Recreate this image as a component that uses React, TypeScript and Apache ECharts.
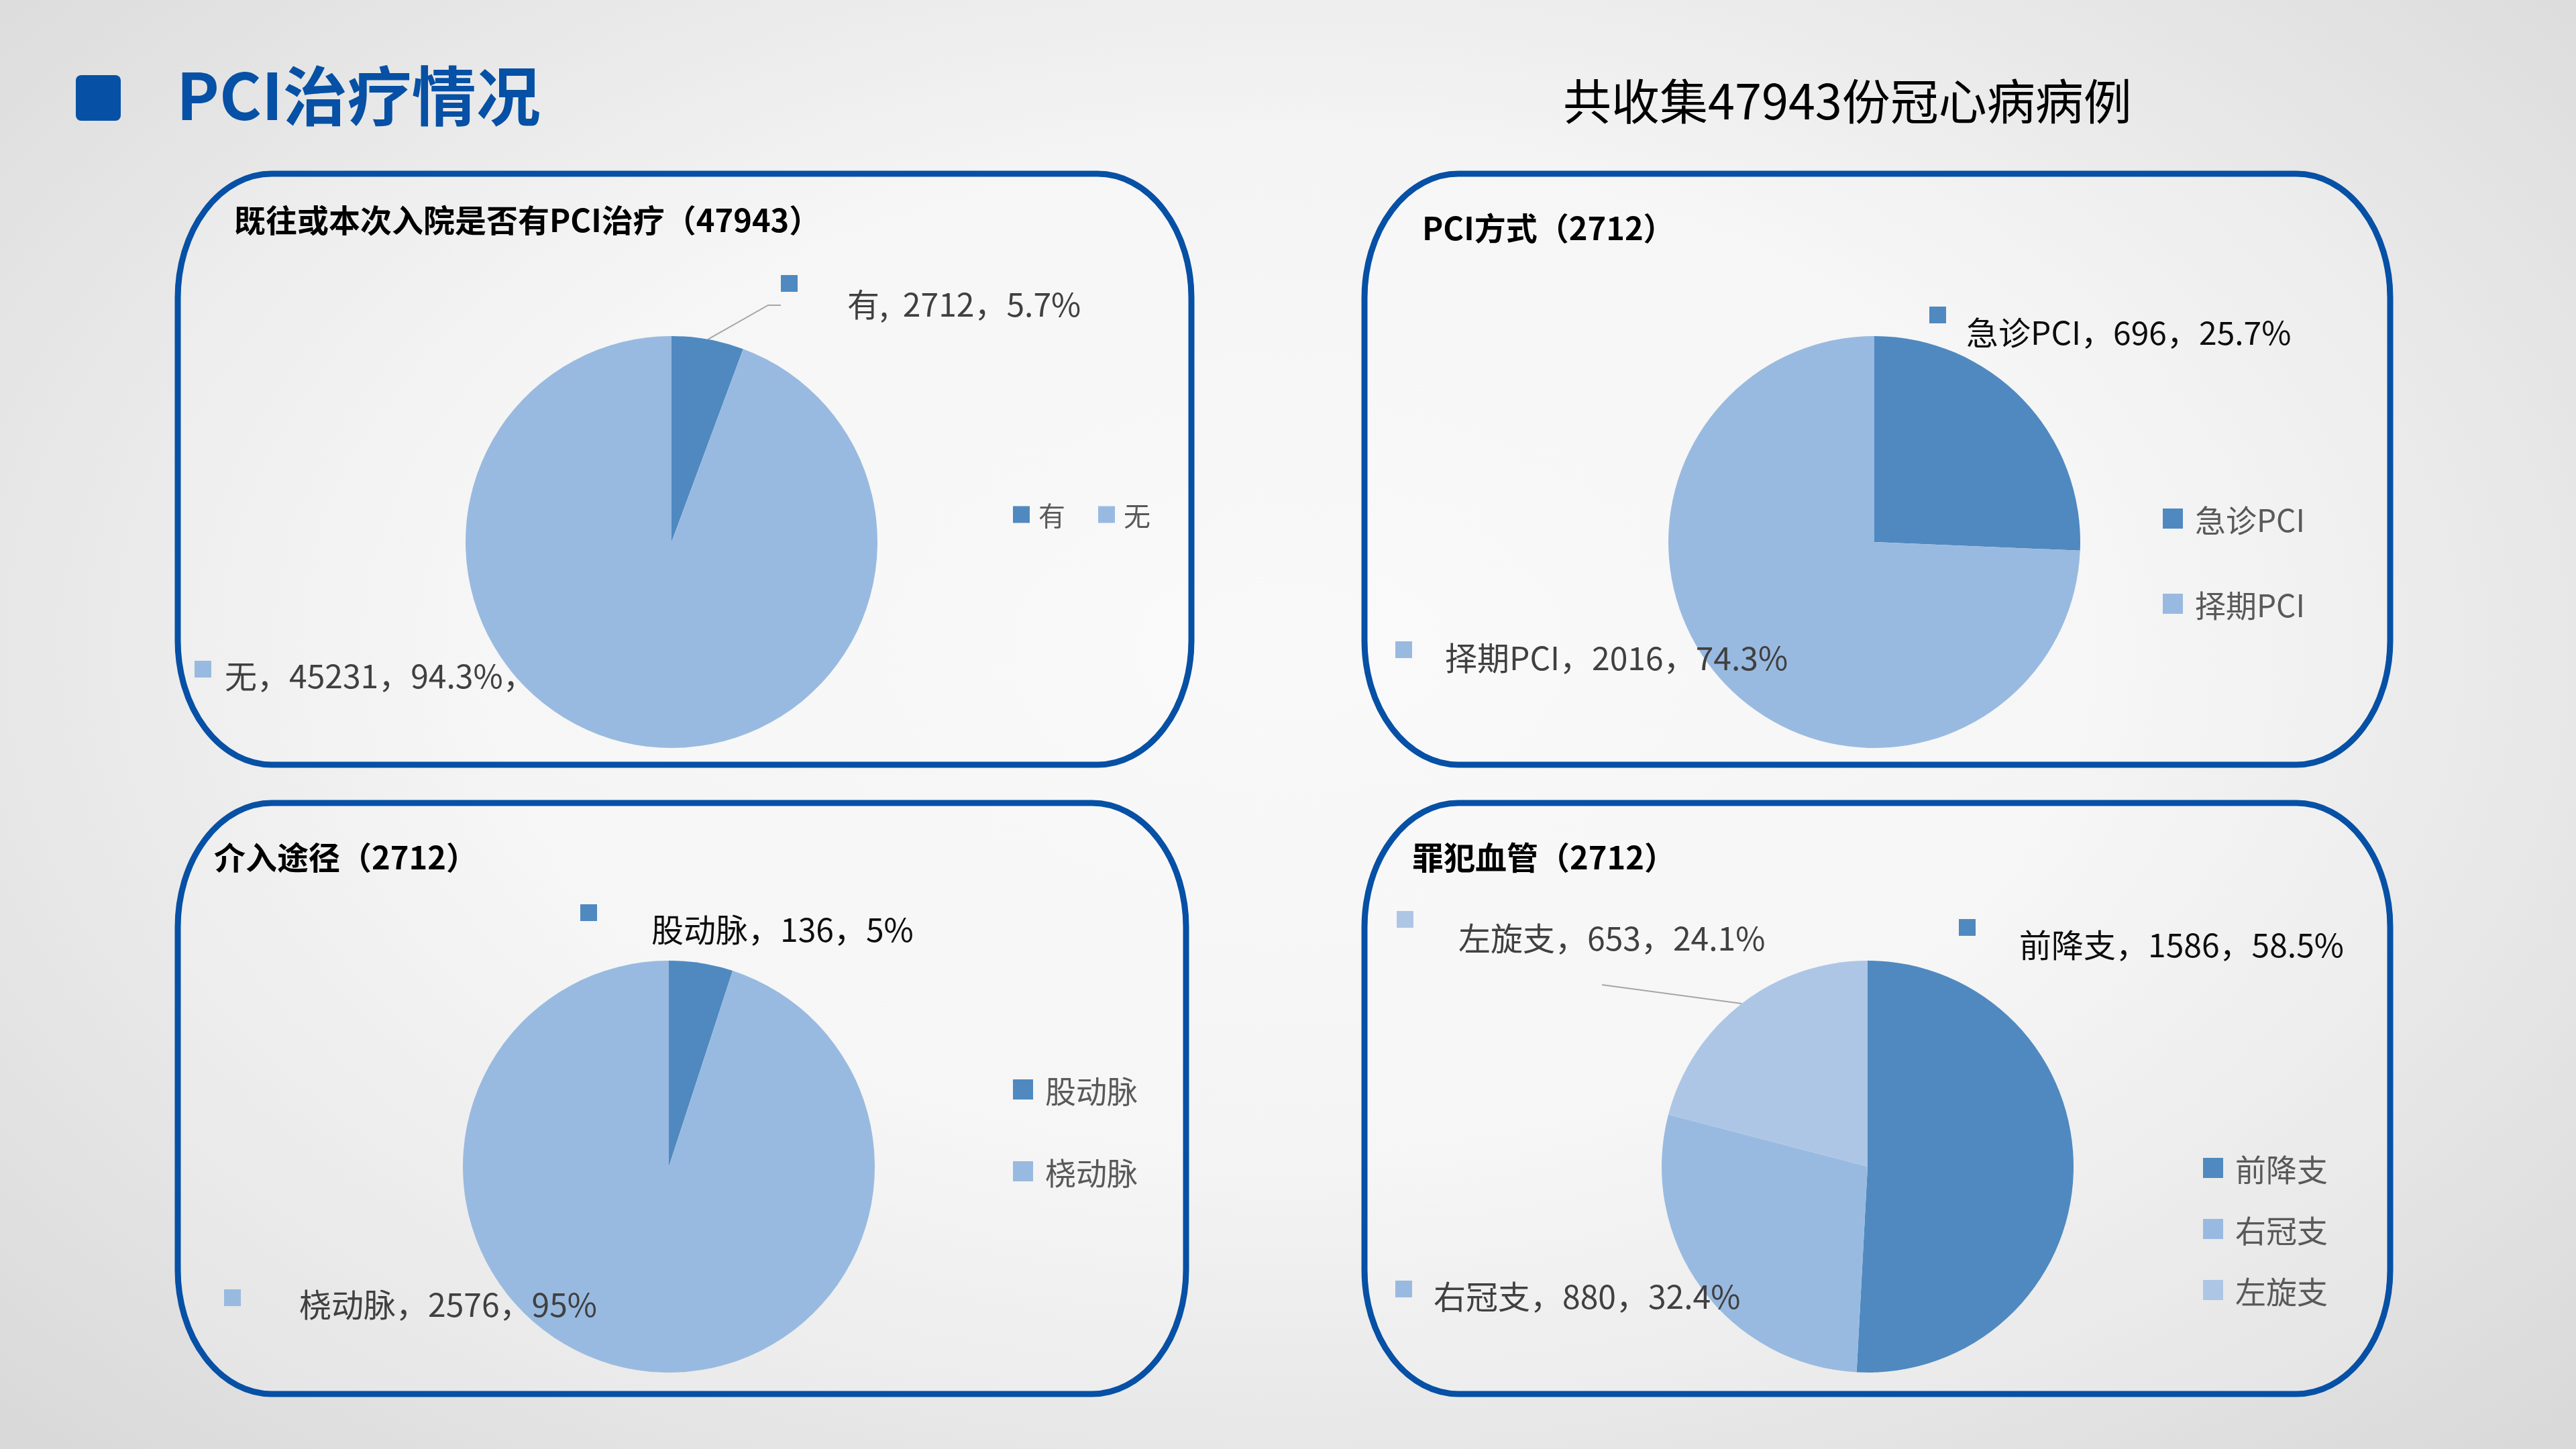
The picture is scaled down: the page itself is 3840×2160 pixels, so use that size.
import React, { useEffect, useRef } from "react";
import * as echarts from "echarts";

// ---------- data ----------
const pageTitle = "PCI治疗情况";
const pageSubtitle = "共收集47943份冠心病病例";

const chartTitles = [
  "既往或本次入院是否有PCI治疗（47943）",
  "PCI方式（2712）",
  "介入途径（2712）",
  "罪犯血管（2712）",
];

const historyNames = ["有", "无"];
const historyValues = [2712, 45231];
const historyPct = ["5.7%", "94.3%"];

const methodNames = ["急诊PCI", "择期PCI"];
const methodValues = [696, 2016];
const methodPct = ["25.7%", "74.3%"];

const accessNames = ["股动脉", "桡动脉"];
const accessValues = [136, 2576];
const accessPct = ["5%", "95%"];

const vesselNames = ["前降支", "右冠支", "左旋支"];
const vesselValues = [1586, 880, 653];
const vesselPct = ["58.5%", "32.4%", "24.1%"];

// ---------- styles / layout ----------
const FONT = "'Noto Sans CJK SC', 'Noto Sans', sans-serif";
const BLUE = "#0650A5";
const DARK = "#4F89C0";
const MID = "#99BAE0";
const LIGHT = "#AEC6E5";

type LabelCfg = {
  x: number; y: number; gap: number; pad: number; color: string;
  sep?: string; tail?: string; line?: number[][];
};

type PanelCfg = {
  box: number[];
  title: number[];
  center: number[];
  radius: number;
  colors: string[];
  legend: { left: number; top: number; orient: string; itemGap: number; fontSize: number; icon: number; textGap: number };
  labels: LabelCfg[];
};

const panels: PanelCfg[] = [
  {
    box: [265, 259, 1776, 1140],
    title: [349, 325],
    center: [1001, 808],
    radius: 307,
    colors: [DARK, MID],
    legend: { left: 1510, top: 742, orient: "horizontal", itemGap: 49, fontSize: 40, icon: 25, textGap: 8 },
    labels: [
      { x: 1164, y: 410, gap: 74, pad: 21, color: "#404040", sep: ",  ", line: [[1145, 455], [1164, 455]] },
      { x: 290, y: 985, gap: 20, pad: 0, color: "#404040", tail: "，" },
    ],
  },
  {
    box: [2034, 259, 3563, 1140],
    title: [2120, 337],
    center: [2794, 808],
    radius: 307,
    colors: [DARK, MID],
    legend: { left: 3224, top: 748, orient: "vertical", itemGap: 77, fontSize: 46, icon: 30, textGap: 13 },
    labels: [
      { x: 2876, y: 457, gap: 30, pad: 16, color: "#0d0d0d" },
      { x: 2080, y: 956, gap: 49, pad: 2, color: "#404040" },
    ],
  },
  {
    box: [265, 1197, 1768, 2078],
    title: [319, 1275],
    center: [997, 1739],
    radius: 307,
    colors: [DARK, MID],
    legend: { left: 1510, top: 1599, orient: "vertical", itemGap: 72, fontSize: 46, icon: 30, textGap: 13 },
    labels: [
      { x: 865, y: 1348, gap: 81, pad: 15, color: "#0d0d0d" },
      { x: 334, y: 1922, gap: 87, pad: 0, color: "#404040" },
    ],
  },
  {
    box: [2034, 1197, 3563, 2078],
    title: [2105, 1275],
    center: [2784, 1739],
    radius: 307,
    colors: [DARK, MID, LIGHT],
    legend: { left: 3284, top: 1716, orient: "vertical", itemGap: 41, fontSize: 46, icon: 30, textGap: 13 },
    labels: [
      { x: 2920, y: 1370, gap: 65, pad: 16, color: "#0d0d0d" },
      { x: 2080, y: 1909, gap: 32, pad: 1, color: "#404040" },
      { x: 2082, y: 1358, gap: 67, pad: 18, color: "#404040", line: [[2388, 1468], [2388, 1468]] },
    ],
  },
];

const chartData = [
  { names: historyNames, values: historyValues, pct: historyPct },
  { names: methodNames, values: methodValues, pct: methodPct },
  { names: accessNames, values: accessValues, pct: accessPct },
  { names: vesselNames, values: vesselValues, pct: vesselPct },
];

function panelPath(b: number[], rx: number, ry: number) {
  const [x0, y0, x1, y1] = b;
  return `M${x0 + rx} ${y0} L${x1 - rx} ${y0} A${rx} ${ry} 0 0 1 ${x1} ${y0 + ry} L${x1} ${y1 - ry} A${rx} ${ry} 0 0 1 ${x1 - rx} ${y1} L${x0 + rx} ${y1} A${rx} ${ry} 0 0 1 ${x0} ${y1 - ry} L${x0} ${y0 + ry} A${rx} ${ry} 0 0 1 ${x0 + rx} ${y0} Z`;
}

function edgePoint(values: number[], idx: number, center: number[], r: number) {
  const total = values.reduce((a, b) => a + b, 0);
  let before = 0;
  for (let i = 0; i < idx; i++) before += values[i];
  const a = ((before + values[idx] / 2) / total) * Math.PI * 2;
  return [center[0] + r * Math.sin(a), center[1] - r * Math.cos(a)];
}

function buildSeries(p: PanelCfg, d: { names: string[]; values: number[]; pct: string[] }) {
  return {
    type: "pie",
    center: p.center,
    radius: p.radius,
    startAngle: 90,
    clockwise: true,
    avoidLabelOverlap: false,
    emphasis: { disabled: true },
    itemStyle: { borderWidth: 0 },
    labelLine: { show: true, length: 10, length2: 10, lineStyle: { color: "#a6a6a6", width: 2 } },
    data: d.names.map((n, i) => {
      const l = p.labels[i];
      const text = `${n}${l.sep ?? "，"}${d.values[i]}，${d.pct[i]}${l.tail ?? ""}`;
      return {
        name: n,
        value: d.values[i],
        itemStyle: { color: p.colors[i] },
        labelLine: { show: !!l.line },
        label: {
          show: true,
          position: "outside",
          formatter: () => `{m|}{g|}{t|${text}}`,
          rich: {
            m: { width: 25, height: 25, backgroundColor: p.colors[i], verticalAlign: "top" },
            g: { width: l.gap, height: 10 },
            t: { fontSize: 48, height: 40, padding: [l.pad, 0, 0, 0], color: l.color, fontFamily: FONT },
          },
        },
      };
    }),
    labelLayout: (params: any) => {
      const l = p.labels[params.dataIndex];
      const res: any = { x: l.x, y: l.y, align: "left", verticalAlign: "top" };
      if (l.line) {
        res.labelLinePoints = [edgePoint(d.values, params.dataIndex, p.center, p.radius), ...l.line];
      }
      return res;
    },
  };
}

export default function App() {
  const ref = useRef<HTMLDivElement>(null);

  useEffect(() => {
    if (!ref.current) return;
    panels.forEach((p, i) => {
      echarts.graphic.registerShape(`panel${i}`, echarts.graphic.extendPath(panelPath(p.box, 140, 185), {}) as any);
    });
    const chart = echarts.init(ref.current, undefined, { renderer: "svg" });

    const graphic: any[] = [
      {
        type: "rect",
        shape: { x: 113, y: 112, width: 67, height: 68, r: 8 },
        style: { fill: BLUE },
      },
      {
        type: "text",
        x: 263,
        y: 137,
        style: {
          text: pageTitle,
          fontSize: 96,
          fontWeight: "bold",
          fontFamily: FONT,
          fill: BLUE,
          verticalAlign: "middle",
          shadowColor: "rgba(0,0,0,0.35)",
          shadowOffsetX: 4,
          shadowOffsetY: 4,
          shadowBlur: 4,
        },
      },
      {
        type: "text",
        x: 2330,
        y: 146,
        style: {
          text: pageSubtitle,
          fontSize: 72,
          fontFamily: FONT,
          fill: "#000",
          verticalAlign: "middle",
          shadowColor: "rgba(0,0,0,0.25)",
          shadowOffsetX: 2,
          shadowOffsetY: 2,
          shadowBlur: 2,
        },
      },
    ];
    panels.forEach((p, i) => {
      graphic.push({
        type: `panel${i}`,
        style: { fill: "rgba(255,255,255,0.2)", stroke: BLUE, lineWidth: 9 },
        z: -1,
      });
      graphic.push({
        type: "text",
        x: p.title[0],
        y: p.title[1],
        style: {
          text: chartTitles[i],
          fontSize: 47,
          fontWeight: "bold",
          fontFamily: FONT,
          fill: "#000",
          verticalAlign: "middle",
        },
      });
    });

    const legend = panels.map((p, i) => ({
      data: chartData[i].names,
      orient: p.legend.orient,
      left: p.legend.left,
      top: p.legend.top,
      padding: 0,
      itemGap: p.legend.itemGap,
      itemWidth: p.legend.icon,
      itemHeight: p.legend.icon,
      icon: "rect",
      selectedMode: false,
      textStyle: {
        fontSize: p.legend.fontSize,
        fontFamily: FONT,
        color: "#595959",
        lineHeight: 50,
        padding: [0, 0, 0, p.legend.textGap],
      },
    }));

    chart.setOption({
      animation: false,
      backgroundColor: "transparent",
      graphic,
      legend,
      series: panels.map((p, i) => buildSeries(p, chartData[i])),
    });

    return () => chart.dispose();
  }, []);

  return (
    <div
      style={{
        position: "fixed",
        left: 0,
        top: 0,
        width: 3840,
        height: 2160,
        background: "radial-gradient(ellipse at 50% 45%, #f9f9f9 0%, #f4f4f4 45%, #d8d8d8 100%)",
      }}
    >
      <div ref={ref} style={{ width: 3840, height: 2160 }} />
    </div>
  );
}
